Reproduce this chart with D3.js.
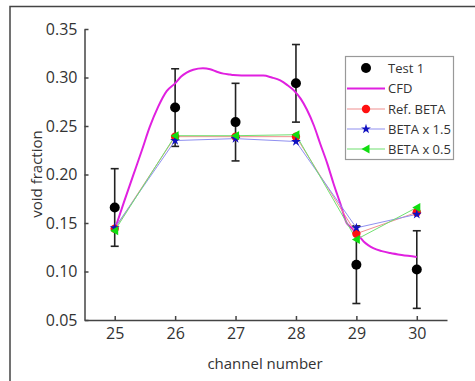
<!DOCTYPE html>
<html>
<head>
<meta charset="utf-8">
<script src="https://cdn.jsdelivr.net/npm/d3@7"></script>
<style>
  body { margin: 0; background: #fff; }
  svg { display: block; }
  text { font-family: "Open Sans", sans-serif; fill: #333; }
</style>
</head>
<body>
<svg id="chart" width="475" height="381"></svg>
<script>
const channels = [25, 26, 27, 28, 29, 30];
const test1 = [0.166, 0.269, 0.254, 0.294, 0.107, 0.102];
const test1Err = [0.040, 0.040, 0.040, 0.040, 0.040, 0.040];
const refBeta = [0.144, 0.239, 0.239, 0.239, 0.139, 0.161];
const beta15 = [0.145, 0.235, 0.237, 0.234, 0.145, 0.159];
const beta05 = [0.142, 0.240, 0.240, 0.241, 0.133, 0.166];
const cfdX = [25.00, 25.15, 25.30, 25.45, 25.58, 25.72, 25.86, 26.00, 26.10, 26.19, 26.30, 26.46, 26.58, 26.69, 26.80, 26.91, 26.96, 27.10, 27.30, 27.46, 27.60, 27.74, 27.86, 27.96, 28.08, 28.18, 28.30, 28.40, 28.52, 28.62, 28.74, 28.84, 28.90, 29.01, 29.12, 29.20, 29.28, 29.42, 29.56, 29.75, 30.00];
const cfdY = [0.143, 0.171, 0.198, 0.225, 0.249, 0.270, 0.286, 0.294, 0.301, 0.305, 0.308, 0.3095, 0.3085, 0.306, 0.304, 0.303, 0.3025, 0.302, 0.302, 0.302, 0.300, 0.297, 0.292, 0.287, 0.278, 0.267, 0.250, 0.232, 0.211, 0.191, 0.169, 0.150, 0.146, 0.139, 0.131, 0.127, 0.124, 0.121, 0.119, 0.117, 0.115];
const yTicks = [0.05, 0.10, 0.15, 0.20, 0.25, 0.30, 0.35];
const xTicks = [25, 26, 27, 28, 29, 30];
const legendLabels = ["Test 1", "CFD", "Ref. BETA", "BETA x 1.5", "BETA x 0.5"];

const svg = d3.select("#chart");

// outer frame
svg.append("path").attr("d", "M10,381 L10,6.5 L475,6.5")
  .attr("fill", "none").attr("stroke", "#444").attr("stroke-width", 1.5);

const x = d3.scaleLinear().domain([24.5, 30.5]).range([84.5, 447]);
const y = d3.scaleLinear().domain([0.05, 0.35]).range([320, 29]);

const ax = svg.append("g").attr("transform", "translate(0,320)")
  .call(d3.axisBottom(x).tickValues(xTicks).tickFormat(d3.format("d")).tickSize(-4).tickSizeOuter(0).tickPadding(8));
const ay = svg.append("g").attr("transform", "translate(84.5,0)")
  .call(d3.axisLeft(y).tickValues(yTicks).tickFormat(d3.format(".2f")).tickSize(-4).tickSizeOuter(0).tickPadding(7));
[ax, ay].forEach(g => {
  g.select(".domain").attr("stroke", "#444").attr("stroke-width", 1.5);
  g.selectAll(".tick line").attr("stroke", "#444").attr("stroke-width", 1.5);
  g.selectAll(".tick text").attr("font-size", 16).attr("fill", "#333").attr("font-family", "Open Sans, sans-serif");
});

svg.append("text").attr("x", 265).attr("y", 369).attr("text-anchor", "middle")
  .attr("font-size", 15).text("channel number");
svg.append("text").attr("transform", "translate(42,174) rotate(-90)").attr("text-anchor", "middle")
  .attr("font-size", 15).text("void fraction");

// Test 1 error bars and points
const tg = svg.append("g");
channels.forEach((c, i) => {
  const cx = x(c), lo = y(test1[i] - test1Err[i]), hi = y(test1[i] + test1Err[i]);
  tg.append("line").attr("x1", cx).attr("x2", cx).attr("y1", lo).attr("y2", hi).attr("stroke", "#222").attr("stroke-width", 1.6);
  tg.append("line").attr("x1", cx - 4).attr("x2", cx + 4).attr("y1", lo).attr("y2", lo).attr("stroke", "#222").attr("stroke-width", 1.6);
  tg.append("line").attr("x1", cx - 4).attr("x2", cx + 4).attr("y1", hi).attr("y2", hi).attr("stroke", "#222").attr("stroke-width", 1.6);
});
tg.selectAll("circle").data(channels).join("circle")
  .attr("cx", d => x(d)).attr("cy", (d, i) => y(test1[i])).attr("r", 5).attr("fill", "#000");

// CFD
const cfd = cfdX.map((v, i) => [v, cfdY[i]]);
svg.append("path").datum(cfd)
  .attr("d", d3.line().x(d => x(d[0])).y(d => y(d[1])).curve(d3.curveMonotoneX))
  .attr("fill", "none").attr("stroke", "#e020e0").attr("stroke-width", 2);

const line = d3.line().x((d, i) => x(channels[i])).y(d => y(d));
const series = [
  { vals: refBeta, line: "#f09090", mark: "#ff1010", type: "circle" },
  { vals: beta15, line: "#9090f0", mark: "#1010c0", type: "star" },
  { vals: beta05, line: "#70e070", mark: "#10dd10", type: "tri" }
];
function drawMarker(g, type, cx, cy, color) {
  if (type === "circle") {
    g.append("circle").attr("cx", cx).attr("cy", cy).attr("r", 4.2).attr("fill", color);
  } else if (type === "star") {
    g.append("path").attr("d", d3.symbol(d3.symbolStar, 30)()).attr("transform", `translate(${cx},${cy})`).attr("fill", color);
  } else {
    g.append("path").attr("d", "M-4.5,0 L3.5,-4.5 L3.5,4.5 Z").attr("transform", `translate(${cx},${cy})`).attr("fill", color);
  }
}
series.forEach(s => {
  svg.append("path").datum(s.vals).attr("d", line).attr("fill", "none").attr("stroke", s.line).attr("stroke-width", 1);
});
series.forEach(s => {
  const g = svg.append("g");
  s.vals.forEach((v, i) => drawMarker(g, s.type, x(channels[i]), y(v), s.mark));
});

// legend
const lg = svg.append("g");
lg.append("rect").attr("x", 345.5).attr("y", 56.5).attr("width", 108).attr("height", 103)
  .attr("fill", "#fff").attr("stroke", "#999").attr("stroke-width", 1.2);
const rowY = [68, 88.5, 109, 129, 149];
legendLabels.forEach((lab, i) => {
  const ry = rowY[i];
  if (i === 0) {
    lg.append("circle").attr("cx", 366).attr("cy", ry).attr("r", 5).attr("fill", "#000");
  } else if (i === 1) {
    lg.append("line").attr("x1", 347).attr("x2", 385).attr("y1", ry).attr("y2", ry).attr("stroke", "#e020e0").attr("stroke-width", 2);
  } else {
    const s = series[i - 2];
    lg.append("line").attr("x1", 347).attr("x2", 385).attr("y1", ry).attr("y2", ry).attr("stroke", s.line).attr("stroke-width", 1.2);
    drawMarker(lg, s.type, 366, ry, s.mark);
  }
  lg.append("text").attr("x", 388).attr("y", ry).attr("dy", "0.35em").attr("font-size", 13).text(lab);
});
</script>
</body>
</html>
